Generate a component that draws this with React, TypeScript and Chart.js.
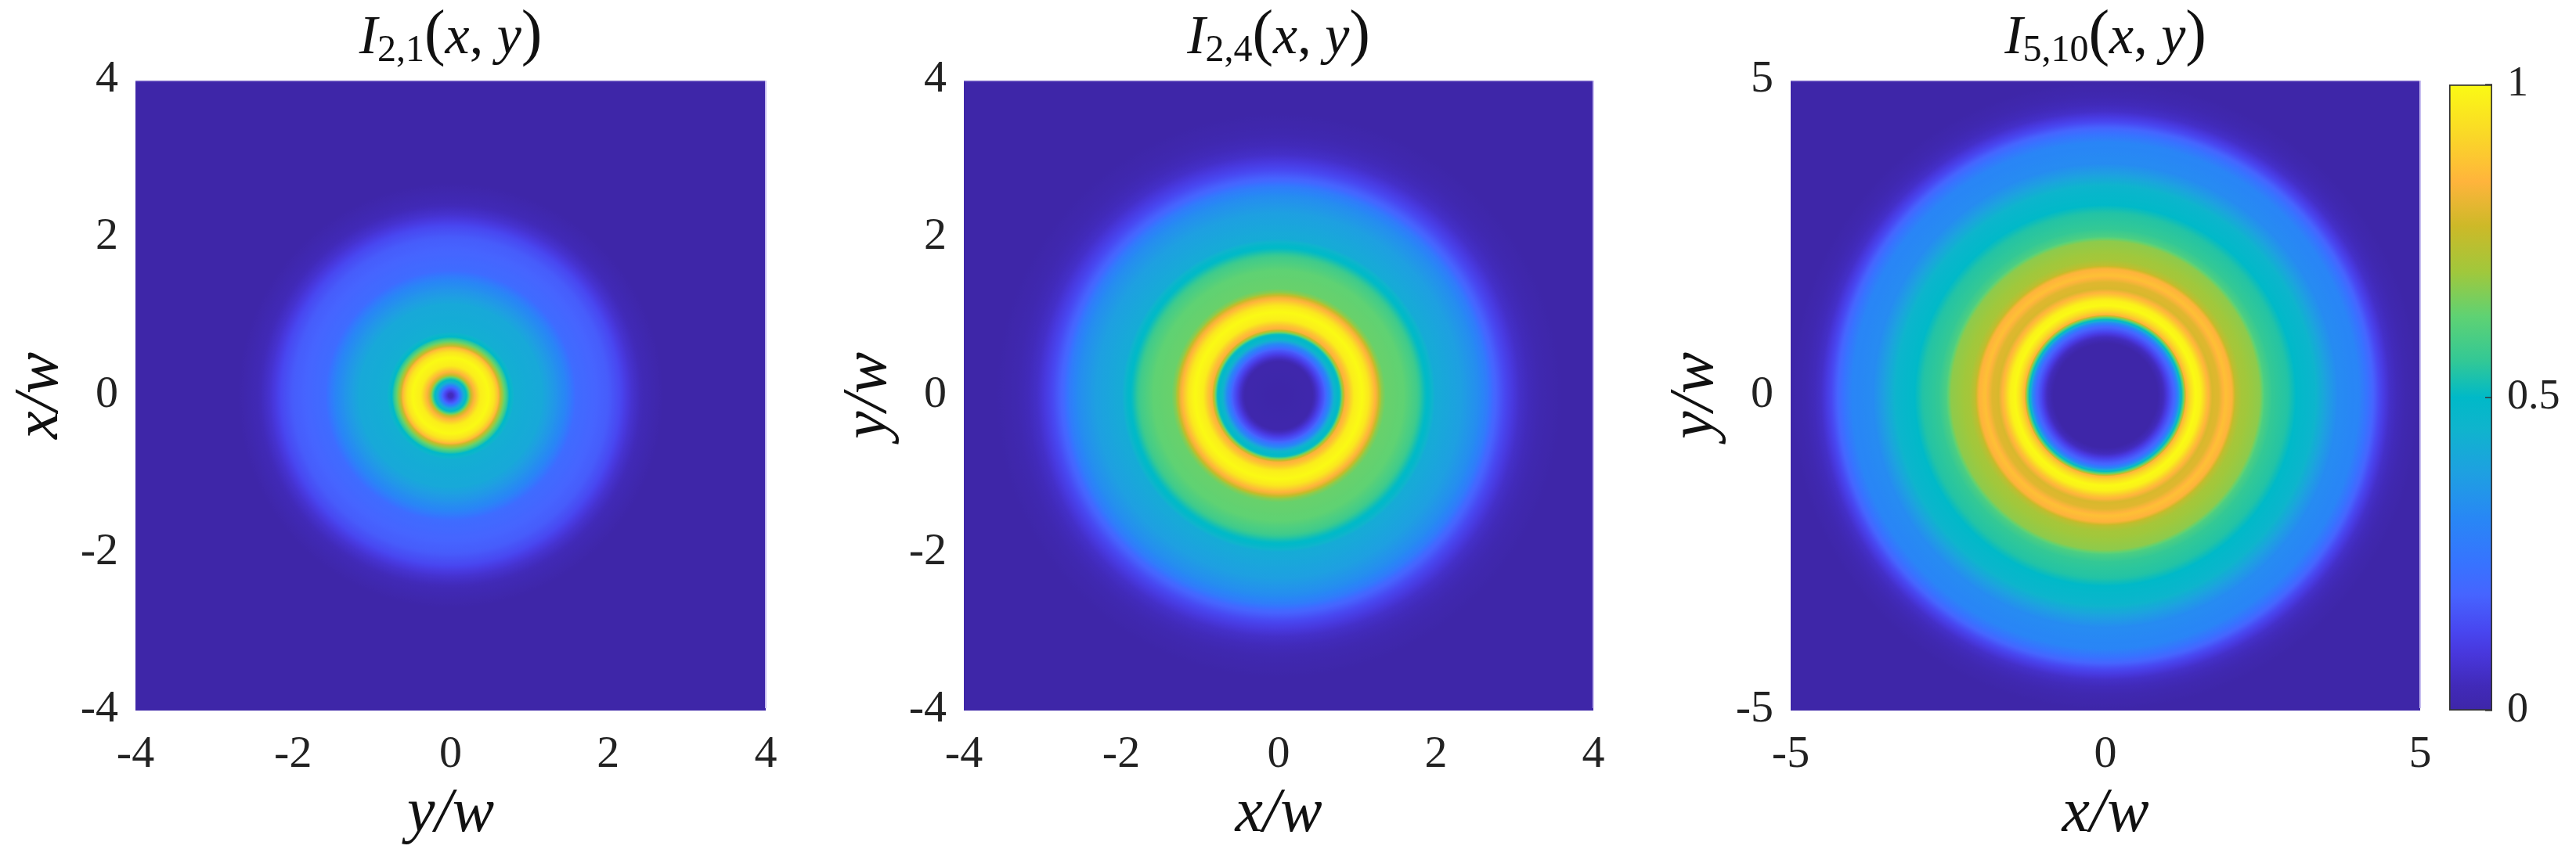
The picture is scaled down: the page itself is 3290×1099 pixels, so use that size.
import React, { useEffect, useRef } from "react";
import { Chart, registerables } from "chart.js";

Chart.register(...registerables);

const FONT = '"Liberation Serif", serif';

// colour map
const cmapLevels = [0, 0.04, 0.09, 0.127, 0.185, 0.235, 0.307, 0.38, 0.45, 0.5, 0.558, 0.63, 0.7, 0.774, 0.845, 0.917, 1];
const cmapColors = [
  [62, 38, 168], [65, 42, 185], [72, 55, 220], [72, 70, 240], [70, 100, 255], [55, 115, 255],
  [40, 135, 245], [30, 160, 225], [15, 180, 205], [0, 185, 200], [50, 200, 150], [95, 210, 115],
  [160, 200, 60], [205, 185, 40], [255, 180, 60], [250, 215, 40], [250, 250, 20],
];

// radial intensity profiles (radius in units of w, intensity normalised to 1)
const radii21 = [0, 0.03, 0.1, 0.165, 0.215, 0.265, 0.315, 0.38, 0.48, 0.55, 0.6, 0.645, 0.7, 0.745, 0.81, 1.16, 1.33, 1.46, 1.59, 1.8, 2.0, 2.15, 2.3, 2.45, 2.7, 5.7];
const values21 = [0.04, 0.05, 0.18, 0.42, 0.55, 0.78, 0.87, 0.97, 1, 0.95, 0.87, 0.72, 0.6, 0.5, 0.43, 0.41, 0.35, 0.3, 0.21, 0.19, 0.17, 0.13, 0.07, 0.03, 0, 0];

const radii24 = [0, 0.43, 0.5, 0.58, 0.65, 0.71, 0.78, 0.81, 0.845, 0.895, 0.96, 1.06, 1.14, 1.21, 1.26, 1.31, 1.36, 1.59, 1.76, 1.86, 1.91, 1.99, 2.32, 2.55, 2.65, 2.73, 2.87, 3.07, 3.3, 3.6, 5.7];
const values24 = [0, 0.01, 0.08, 0.17, 0.3, 0.45, 0.52, 0.68, 0.83, 0.88, 0.97, 1, 0.96, 0.87, 0.8, 0.68, 0.64, 0.63, 0.58, 0.51, 0.49, 0.42, 0.38, 0.32, 0.27, 0.2, 0.13, 0.06, 0.02, 0, 0];

const radii510 = [0, 0.83, 0.93, 1.02, 1.1, 1.16, 1.2, 1.24, 1.285, 1.35, 1.43, 1.51, 1.6, 1.7, 1.8, 1.91, 2.01, 2.07, 2.16, 2.45, 2.53, 2.65, 2.9, 3.03, 3.32, 3.52, 3.69, 4.02, 4.23, 4.35, 4.52, 4.74, 5.0, 7.2];
const values510 = [0, 0, 0.05, 0.13, 0.2, 0.33, 0.48, 0.62, 0.85, 0.93, 1, 0.98, 0.88, 0.79, 0.8, 0.87, 0.84, 0.75, 0.71, 0.68, 0.6, 0.56, 0.54, 0.5, 0.46, 0.38, 0.32, 0.3, 0.2, 0.13, 0.06, 0.02, 0, 0];

const ticks4 = [-4, -2, 0, 2, 4];
const ticks5 = [-5, 0, 5];
const colorbarTicks = [0, 0.5, 1];

const panels = [
  { radii: radii21, values: values21, range: 4, ticks: ticks4, xTitle: "y/w", yTitle: "x/w", sub: "2,1", left: 173, right: 978 },
  { radii: radii24, values: values24, range: 4, ticks: ticks4, xTitle: "x/w", yTitle: "y/w", sub: "2,4", left: 1231, right: 2035 },
  { radii: radii510, values: values510, range: 5, ticks: ticks5, xTitle: "x/w", yTitle: "y/w", sub: "5,10", left: 2287, right: 3091 },
];

const PLOT_TOP = 103;
const PLOT_BOTTOM = 908;
const H = 1099;

function colorAt(v: number) {
  let i = 0;
  while (i < cmapLevels.length - 2 && v > cmapLevels[i + 1]) i++;
  const t = Math.min(1, Math.max(0, (v - cmapLevels[i]) / (cmapLevels[i + 1] - cmapLevels[i])));
  const a = cmapColors[i];
  const b = cmapColors[i + 1];
  return `rgb(${a.map((c, k) => Math.round(c + (b[k] - c) * t)).join(",")})`;
}

function ringPixels(chart: any, r: number) {
  const s = chart.scales.x;
  if (!s) return 0;
  const d = Math.abs(s.getPixelForValue(r) - s.getPixelForValue(0));
  return Number.isFinite(d) ? d : 0;
}

function ringFill(ctx: any) {
  const chart = ctx.chart;
  const raw = ctx.raw;
  if (!raw || !chart.chartArea || !chart.scales.x || !chart.scales.y) return colorAt(0);
  const cx = chart.scales.x.getPixelForValue(0);
  const cy = chart.scales.y.getPixelForValue(0);
  const r0 = ringPixels(chart, raw.inner);
  const r1 = ringPixels(chart, raw.r);
  if (!Number.isFinite(cx) || !Number.isFinite(cy)) return colorAt(raw.v);
  const g = chart.ctx.createRadialGradient(cx, cy, r0, cx, cy, r1);
  const N = 8;
  for (let k = 0; k <= N; k++) {
    g.addColorStop(k / N, colorAt(raw.innerV + ((raw.v - raw.innerV) * k) / N));
  }
  return g;
}

const titlePlugin = (sub: string) => ({
  id: "mathTitle",
  afterDraw(chart: any) {
    const c = chart.ctx;
    const { left, right, top } = chart.chartArea;
    // pale edge along the top and right of the image
    c.save();
    c.fillStyle = "rgba(110,90,195,1)";
    c.fillRect(left, top, right - left, 1.5);
    c.fillStyle = "rgba(200,190,240,1)";
    c.fillRect(right - 1, top, 2, chart.chartArea.bottom - top - 3);
    c.restore();

    const pieces: [string, string][] = [
      ["I", `italic 70px ${FONT}`],
      [sub, `48px ${FONT}`],
      ["(", `80px ${FONT}`],
      ["x", `italic 70px ${FONT}`],
      [", ", `70px ${FONT}`],
      ["y", `italic 70px ${FONT}`],
      [")", `80px ${FONT}`],
    ];
    c.save();
    c.fillStyle = "#111";
    c.textAlign = "left";
    c.textBaseline = "alphabetic";
    let w = 0;
    for (const [t, f] of pieces) {
      c.font = f;
      w += c.measureText(t).width;
    }
    let x = (left + right) / 2 - w / 2;
    for (const [t, f] of pieces) {
      c.font = f;
      c.fillText(t, x, t === sub ? 78 : 68);
      x += c.measureText(t).width;
    }
    c.restore();
  },
});

function Panel({ p }: { p: (typeof panels)[number] }) {
  const ref = useRef<HTMLCanvasElement>(null);
  const canvasWidth = p.right + 60 - (p.left - 173);
  const canvasLeft = p.left - 173;
  useEffect(() => {
    const data: any[] = [];
    for (let i = p.radii.length - 1; i >= 1; i--) {
      data.push({ x: 0, y: 0, r: p.radii[i], v: p.values[i], inner: p.radii[i - 1], innerV: p.values[i - 1] });
    }
    const axisBase = (title: string, pad: number, titlePadding: any) => ({
      type: "linear",
      min: -p.range,
      max: p.range,
      grid: { display: false, drawTicks: false },
      border: { display: false },
      title: {
        display: true,
        text: title,
        color: "#111",
        font: { family: FONT, size: 80, style: "italic", weight: "normal" },
        padding: titlePadding,
      },
      ticks: {
        autoSkip: false,
        maxRotation: 0,
        padding: pad,
        color: "#222",
        font: { family: FONT, size: 58 },
        callback: (v: any) => String(v),
      },
      afterBuildTicks: (s: any) => {
        s.ticks = p.ticks.map((value) => ({ value }));
      },
    });
    const chart = new Chart(ref.current as any, {
      type: "scatter",
      data: {
        datasets: [
          {
            data,
            showLine: false,
            pointBorderWidth: 0,
            pointHoverRadius: 0,
            pointRadius: (ctx: any) => (ctx.raw ? ringPixels(ctx.chart, ctx.raw.r) : 0),
            pointBackgroundColor: ringFill,
          } as any,
        ],
      },
      options: {
        animation: false,
        responsive: false,
        events: [],
        layout: { padding: { top: PLOT_TOP, right: canvasWidth - 173 - (p.right - p.left), left: 0, bottom: 0 } },
        plugins: { legend: { display: false }, tooltip: { enabled: false } },
        scales: {
          x: {
            ...axisBase(p.xTitle, 22, { top: 0, bottom: 10 }),
            position: "bottom",
            afterFit: (s: any) => {
              s.height = H - PLOT_BOTTOM;
            },
          },
          y: {
            ...axisBase(p.yTitle, 22, { top: 4, bottom: 0 }),
            position: "left",
            ticks: {
              ...axisBase(p.yTitle, 22, 0).ticks,
              labelOffset: -1,
            },
            afterFit: (s: any) => {
              s.width = 173;
            },
          },
        },
      } as any,
      plugins: [titlePlugin(p.sub)],
    });
    return () => chart.destroy();
  }, []);
  return (
    <canvas
      ref={ref}
      width={canvasWidth}
      height={H}
      style={{ position: "absolute", left: canvasLeft, top: 0, width: canvasWidth, height: H }}
    />
  );
}

function Colorbar() {
  const ref = useRef<HTMLCanvasElement>(null);
  useEffect(() => {
    const chart = new Chart(ref.current as any, {
      type: "bar",
      data: {
        labels: ["I"],
        datasets: [
          {
            data: [[0, 1]],
            barPercentage: 1,
            categoryPercentage: 1,
            borderWidth: 2,
            borderColor: "#333",
            borderSkipped: false,
            backgroundColor: (ctx: any) => {
              const y = ctx.chart.scales.y;
              if (!y || !ctx.chart.chartArea) return colorAt(0);
              const y0 = y.getPixelForValue(0);
              const y1 = y.getPixelForValue(1);
              if (!Number.isFinite(y0) || !Number.isFinite(y1)) return colorAt(0);
              const g = ctx.chart.ctx.createLinearGradient(0, y0, 0, y1);
              cmapLevels.forEach((l) => g.addColorStop(l, colorAt(l)));
              return g;
            },
          } as any,
        ],
      },
      options: {
        animation: false,
        responsive: false,
        events: [],
        layout: { padding: { top: 108, left: 18, right: 0, bottom: 1099 - 908 } },
        plugins: { legend: { display: false }, tooltip: { enabled: false } },
        scales: {
          x: { display: false },
          y: {
            position: "right",
            min: 0,
            max: 1,
            grid: { display: false, drawTicks: false },
            border: { display: false },
            ticks: {
              autoSkip: false,
              padding: 19,
              color: "#222",
              font: { family: FONT, size: 54 },
              callback: (v: any) => String(v),
            },
            afterBuildTicks: (s: any) => {
              s.ticks = colorbarTicks.map((value) => ({ value }));
            },
            afterFit: (s: any) => {
              s.width = 107;
            },
          },
        },
      } as any,
      plugins: [
        {
          id: "innerTicks",
          afterDatasetsDraw(c: any) {
            const { y } = c.scales;
            const ctx = c.ctx;
            ctx.save();
            ctx.strokeStyle = "#333";
            ctx.lineWidth = 1.5;
            for (const t of colorbarTicks) {
              const py = y.getPixelForValue(t);
              ctx.beginPath();
              ctx.moveTo(c.chartArea.right, py);
              ctx.lineTo(c.chartArea.right - 9, py);
              ctx.stroke();
            }
            ctx.restore();
          },
        },
      ],
    });
    return () => chart.destroy();
  }, []);
  return (
    <canvas
      ref={ref}
      width={180}
      height={H}
      style={{ position: "absolute", left: 3110, top: 0, width: 180, height: H }}
    />
  );
}

export default function App() {
  return (
    <div style={{ position: "fixed", left: 0, top: 0, width: 3290, height: H, background: "#fff", overflow: "hidden" }}>
      {panels.map((p) => (
        <Panel key={p.sub} p={p} />
      ))}
      <Colorbar />
    </div>
  );
}
